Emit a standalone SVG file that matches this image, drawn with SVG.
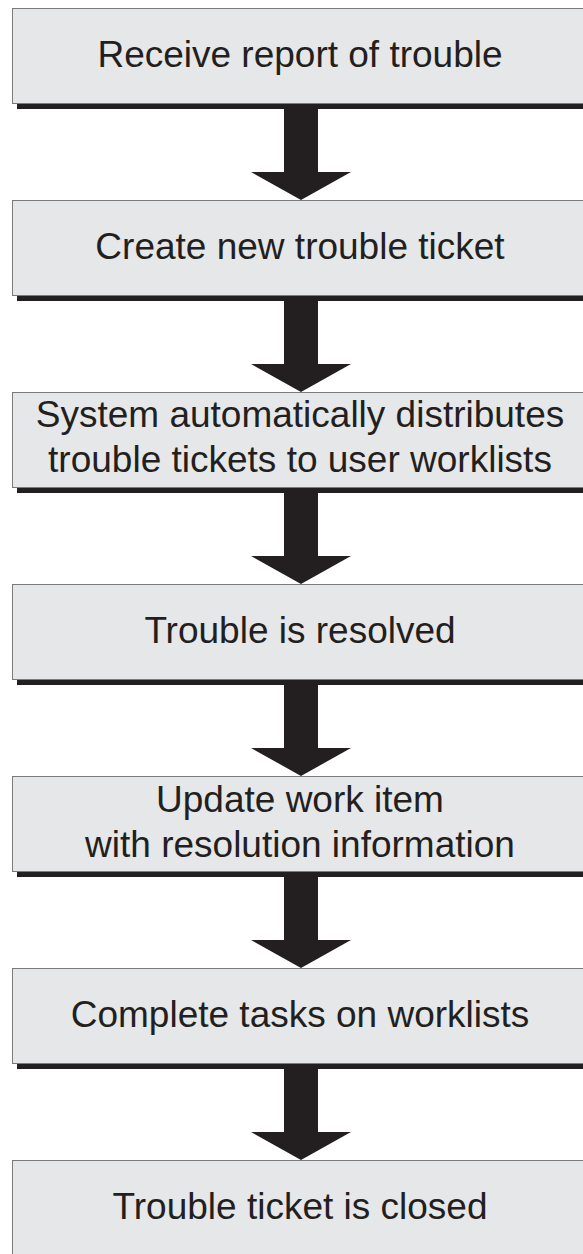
<svg xmlns="http://www.w3.org/2000/svg" width="583" height="1254" viewBox="0 0 583 1254">
  <style>
    .box { fill: #e6e7e8; stroke: #7a7b7d; stroke-width: 1; }
    .shadow { fill: #231f20; }
    .label { font-family: "Liberation Sans", Arial, sans-serif; font-size: 37px; fill: #231f20; text-anchor: middle; }
    .arrow { fill: #231f20; }
  </style>
  <defs>
    <!-- process step: drop shadow below, grey box on top -->
    <g id="step">
      <rect class="shadow" x="17" y="96" width="580" height="5"/>
      <rect class="box" x="12.5" y="0.5" width="590" height="95"/>
    </g>
    <!-- thick block arrow, 96 px tall, tip at y=96 -->
    <path id="down" class="arrow" d="M284 0 H318 V68 H351 L301 96 L251 68 H284 Z"/>
  </defs>

  <rect width="583" height="1254" fill="#ffffff"/>

  <g id="connectors">
    <use href="#down" y="104"/>
    <use href="#down" y="296"/>
    <use href="#down" y="488"/>
    <use href="#down" y="680"/>
    <use href="#down" y="872"/>
    <use href="#down" y="1064"/>
  </g>

  <g id="receive-report">
    <use href="#step" y="8"/>
    <text class="label" x="300" y="67">Receive report of trouble</text>
  </g>
  <g id="create-ticket">
    <use href="#step" y="200"/>
    <text class="label" x="300" y="259">Create new trouble ticket</text>
  </g>
  <g id="distribute-tickets">
    <use href="#step" y="392"/>
    <text class="label" x="300" y="427">System automatically distributes</text>
    <text class="label" x="300" y="472">trouble tickets to user worklists</text>
  </g>
  <g id="trouble-resolved">
    <use href="#step" y="584"/>
    <text class="label" x="300" y="643">Trouble is resolved</text>
  </g>
  <g id="update-work-item">
    <use href="#step" y="776"/>
    <text class="label" x="300" y="812">Update work item</text>
    <text class="label" x="300" y="857">with resolution information</text>
  </g>
  <g id="complete-tasks">
    <use href="#step" y="968"/>
    <text class="label" x="300" y="1027">Complete tasks on worklists</text>
  </g>
  <g id="ticket-closed">
    <use href="#step" y="1160"/>
    <text class="label" x="300" y="1219">Trouble ticket is closed</text>
  </g>
</svg>
